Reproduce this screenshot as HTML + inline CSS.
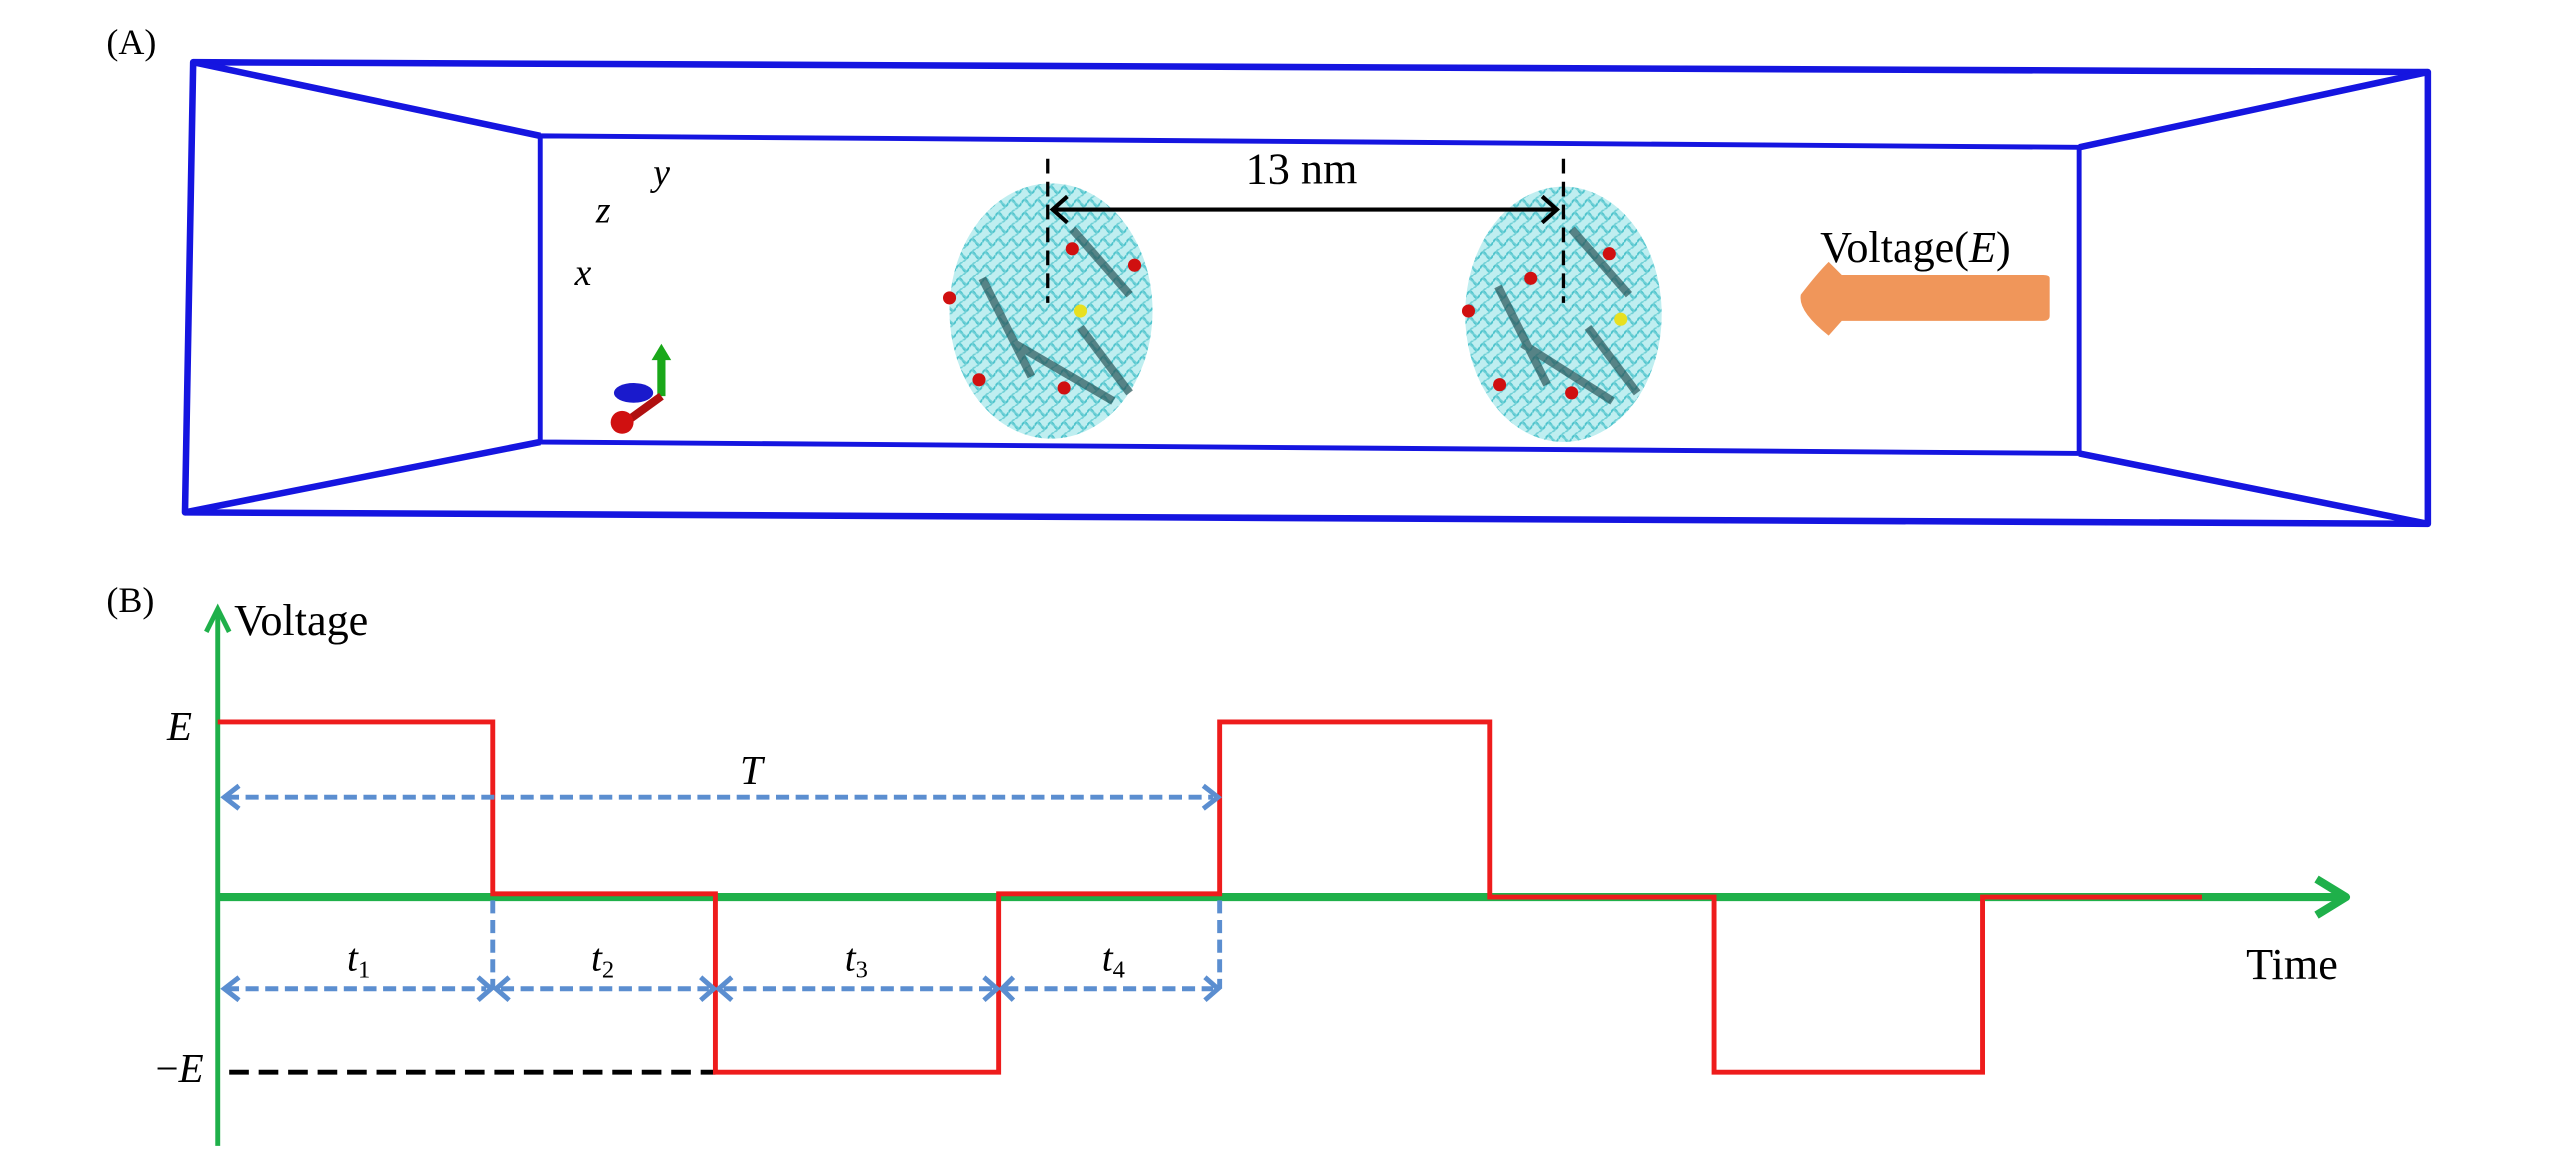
<!DOCTYPE html>
<html><head><meta charset="utf-8"><style>
html,body{margin:0;padding:0;background:#fff;}
svg{display:block;}
text{font-family:"Liberation Serif",serif;fill:#000;}
</style></head><body>
<svg width="2567" height="1158" viewBox="0 0 1568 707.4" preserveAspectRatio="none">
<defs>
<pattern id="wig" width="8" height="8" patternUnits="userSpaceOnUse">
<rect width="8" height="8" fill="#bfeef0"/>
<path d="M0 4 Q2 0 4 4 T8 4" stroke="#4cc3cc" stroke-width="1.2" fill="none"/>
<path d="M4 0 Q0 2 4 4 T4 8" stroke="#6fd0d6" stroke-width="1" fill="none"/>
</pattern>
</defs>
<text x="65" y="33" font-size="22">(A)</text>
<g stroke="#1515e0" stroke-width="4" fill="none" stroke-linejoin="round">
<polygon points="118,38 1483,44 1483,320 113,313"/>
<polygon points="330,83 1270,90 1270,277 330,270" stroke-width="3"/>
<line x1="118" y1="38" x2="330" y2="83"/>
<line x1="1483" y1="44" x2="1270" y2="90"/>
<line x1="113" y1="313" x2="330" y2="270"/>
<line x1="1483" y1="320" x2="1270" y2="277"/>
</g>
<text x="399" y="113" font-size="23" font-style="italic">y</text>
<text x="364" y="136" font-size="23" font-style="italic">z</text>
<text x="351" y="174" font-size="23" font-style="italic">x</text>
<line x1="404" y1="242" x2="404" y2="218" stroke="#1aa81a" stroke-width="5"/>
<polygon points="398,220 410,220 404,210" fill="#1aa81a"/>
<ellipse cx="387" cy="240" rx="12" ry="6" fill="#1a1acc"/>
<line x1="404" y1="242" x2="382" y2="258" stroke="#b01010" stroke-width="5"/>
<circle cx="380" cy="258" r="7" fill="#d01010"/>
<g>
<ellipse cx="642" cy="190" rx="62" ry="78" fill="url(#wig)"/>
<path d="M600 170 L630 230 M655 140 L690 180 M620 210 L680 245 M660 200 L690 240" stroke="#2a5558" stroke-width="5" fill="none" opacity="0.7"/>
<circle cx="580" cy="182" r="4" fill="#d01010"/><circle cx="655" cy="152" r="4" fill="#d01010"/><circle cx="693" cy="162" r="4" fill="#d01010"/><circle cx="598" cy="232" r="4" fill="#d01010"/><circle cx="650" cy="237" r="4" fill="#d01010"/><circle cx="660" cy="190" r="4" fill="#e8e020"/>
<ellipse cx="955" cy="192" rx="60" ry="78" fill="url(#wig)"/>
<path d="M915 175 L945 235 M960 140 L995 180 M930 210 L985 245 M970 200 L1000 240" stroke="#2a5558" stroke-width="5" fill="none" opacity="0.7"/>
<circle cx="897" cy="190" r="4" fill="#d01010"/><circle cx="983" cy="155" r="4" fill="#d01010"/><circle cx="935" cy="170" r="4" fill="#d01010"/><circle cx="916" cy="235" r="4" fill="#d01010"/><circle cx="960" cy="240" r="4" fill="#d01010"/><circle cx="990" cy="195" r="4" fill="#e8e020"/>
</g>
<g stroke="#000" stroke-width="2" stroke-dasharray="9,5">
<line x1="640" y1="97" x2="640" y2="185"/>
<line x1="955" y1="97" x2="955" y2="185"/>
</g>
<line x1="644" y1="128" x2="950" y2="128" stroke="#000" stroke-width="2.5"/>
<polyline points="652,120 643,128 652,136" stroke="#000" stroke-width="2.5" fill="none"/>
<polyline points="942,120 951,128 942,136" stroke="#000" stroke-width="2.5" fill="none"/>
<text x="795" y="112" font-size="27" text-anchor="middle">13 nm</text>
<text x="1170" y="160" font-size="27" text-anchor="middle">Voltage(<tspan font-style="italic">E</tspan>)</text>
<path d="M1252 170 L1252 193 Q1252 196 1248 196 L1125 196 L1117 205 Q1098 190 1100 180 Q1110 167 1117 160 L1125 168 L1248 168 Q1252 168 1252 170 Z" fill="#f0965a"/>
<text x="65" y="374" font-size="22">(B)</text>
<text x="143" y="388" font-size="27">Voltage</text>
<line x1="133" y1="372" x2="133" y2="700" stroke="#1fb04a" stroke-width="3"/>
<polyline points="126,386 133,372 140,386" stroke="#1fb04a" stroke-width="3" fill="none"/>
<line x1="133" y1="548" x2="1430" y2="548" stroke="#1fb04a" stroke-width="5"/>
<polyline points="1415,537 1433,548 1415,559" stroke="#1fb04a" stroke-width="5" fill="none" stroke-linejoin="round"/>
<text x="102" y="452" font-size="25" font-style="italic">E</text>
<text x="95" y="661" font-size="25">−<tspan font-style="italic">E</tspan></text>
<text x="1372" y="598" font-size="27">Time</text>
<line x1="140" y1="655" x2="437" y2="655" stroke="#000" stroke-width="3" stroke-dasharray="12,6"/>
<polyline points="133,441 301,441 301,546 437,546 437,655 610,655 610,546 745,546 745,441 910,441 910,548 1047,548 1047,655 1211,655 1211,548 1345,548" stroke="#ee1c1c" stroke-width="3" fill="none"/>
<g stroke="#5b8ed0" stroke-width="3" fill="none" stroke-dasharray="8,4">
<line x1="138" y1="487" x2="741" y2="487"/>
<line x1="301" y1="550" x2="301" y2="604"/>
<line x1="745" y1="550" x2="745" y2="604"/>
<line x1="138" y1="604" x2="297" y2="604"/>
<line x1="306" y1="604" x2="433" y2="604"/>
<line x1="442" y1="604" x2="606" y2="604"/>
<line x1="614" y1="604" x2="741" y2="604"/>
</g>
<g stroke="#5b8ed0" stroke-width="3" fill="none">
<polyline points="146,480 137,487 146,494"/><polyline points="735,480 744,487 735,494"/>
<polyline points="146,597 137,604 146,611"/><polyline points="292,597 300,604 292,611"/>
<polyline points="311,597 303,604 311,611"/><polyline points="428,597 436,604 428,611"/>
<polyline points="447,597 439,604 447,611"/><polyline points="601,597 609,604 601,611"/>
<polyline points="619,597 612,604 619,611"/><polyline points="736,597 744,604 736,611"/>
</g>
<text x="452" y="479" font-size="25" font-style="italic">T</text>
<text x="212" y="593" font-size="24" font-style="italic">t<tspan font-size="15" dy="4" font-style="normal">1</tspan></text>
<text x="361" y="593" font-size="24" font-style="italic">t<tspan font-size="15" dy="4" font-style="normal">2</tspan></text>
<text x="516" y="593" font-size="24" font-style="italic">t<tspan font-size="15" dy="4" font-style="normal">3</tspan></text>
<text x="673" y="593" font-size="24" font-style="italic">t<tspan font-size="15" dy="4" font-style="normal">4</tspan></text>
</svg>
</body></html>
